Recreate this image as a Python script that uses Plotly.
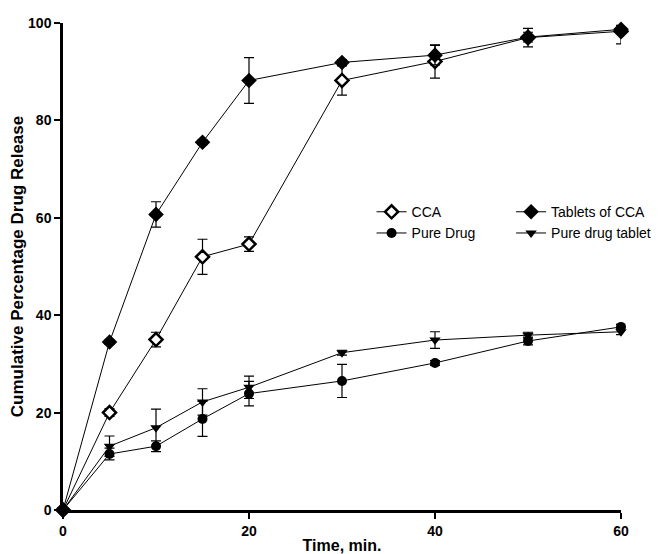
import plotly.graph_objects as go

time = [0, 5, 10, 15, 20, 30, 40, 50, 60]

cca = [0, 20.0, 35.0, 52.0, 54.6, 88.2, 92.1, 97.0, 98.3]
cca_err = [0, 0.8, 1.5, 3.6, 1.5, 3.0, 3.4, 1.9, 2.6]

tablets_cca = [0, 34.5, 60.7, 75.5, 88.2, 91.9, 93.4, 97.1, 98.7]
tablets_cca_err = [0, 0.5, 2.6, 0.5, 4.7, 0.6, 2.0, 1.0, 0.8]

pure_drug = [0, 11.5, 13.1, 18.7, 23.9, 26.5, 30.2, 34.7, 37.6]
pure_drug_err = [0, 1.2, 1.1, 3.6, 2.5, 3.4, 0.5, 0.8, 0.5]

pure_drug_tablet = [0, 13.1, 16.9, 22.2, 25.2, 32.3, 34.9, 35.9, 36.6]
pure_drug_tablet_err = [0, 2.1, 3.8, 2.7, 2.3, 0.5, 1.7, 0.6, 0.6]

FONT = "Liberation Sans, Arial, sans-serif"

def err(vals):
    return dict(type="data", array=vals, visible=True, color="black",
                thickness=1.2, width=5)

fig = go.Figure()

fig.add_trace(go.Scatter(
    x=time, y=cca, name="CCA", mode="lines+markers", legend="legend",
    error_y=err(cca_err),
    line=dict(color="black", width=1),
    marker=dict(symbol="diamond", size=10, color="white",
                line=dict(color="black", width=2.5)),
    cliponaxis=False))

fig.add_trace(go.Scatter(
    x=time, y=pure_drug, name="Pure Drug", mode="lines+markers", legend="legend",
    error_y=err(pure_drug_err),
    line=dict(color="black", width=1),
    marker=dict(symbol="circle", size=10, color="black"),
    cliponaxis=False))

fig.add_trace(go.Scatter(
    x=time, y=tablets_cca, name="Tablets of CCA", mode="lines+markers", legend="legend2",
    error_y=err(tablets_cca_err),
    line=dict(color="black", width=1),
    marker=dict(symbol="diamond", size=12, color="black"),
    cliponaxis=False))

fig.add_trace(go.Scatter(
    x=time, y=pure_drug_tablet, name="Pure drug tablet", mode="lines+markers", legend="legend2",
    error_y=err(pure_drug_tablet_err),
    line=dict(color="black", width=1),
    marker=dict(symbol="triangle-down", size=10, color="black"),
    cliponaxis=False))

axis_common = dict(
    showline=True, linecolor="black", linewidth=2.5,
    ticks="outside", ticklen=6, tickwidth=2, tickcolor="black",
    showgrid=False, zeroline=False, automargin=False,
    tickfont=dict(family=FONT, size=14, color="black", weight="bold"),
)

fig.update_xaxes(range=[0, 60], tickvals=[0, 20, 40, 60], **axis_common,
                 title=dict(text="<b>Time, min.</b>", standoff=3,
                            font=dict(family=FONT, size=16, color="black")))
fig.update_yaxes(range=[0, 100], tickvals=[0, 20, 40, 60, 80, 100], **axis_common,
                 title=dict(text="<b>Cumulative Percentage Drug Release</b>", standoff=8,
                            font=dict(family=FONT, size=17, color="black")))

legend_common = dict(
    font=dict(family=FONT, size=14, color="black"),
    bgcolor="rgba(0,0,0,0)", tracegroupgap=0, itemwidth=30,
    xanchor="left", yanchor="middle", itemsizing="trace",
)

fig.update_layout(
    width=654, height=546,
    margin=dict(l=55, r=41, t=15, b=44, autoexpand=False),
    paper_bgcolor="white", plot_bgcolor="white",
    showlegend=True,
    legend=dict(x=0.553, y=0.59, **legend_common),
    legend2=dict(x=0.803, y=0.59, **legend_common),
)

fig.write_html("out.html")
